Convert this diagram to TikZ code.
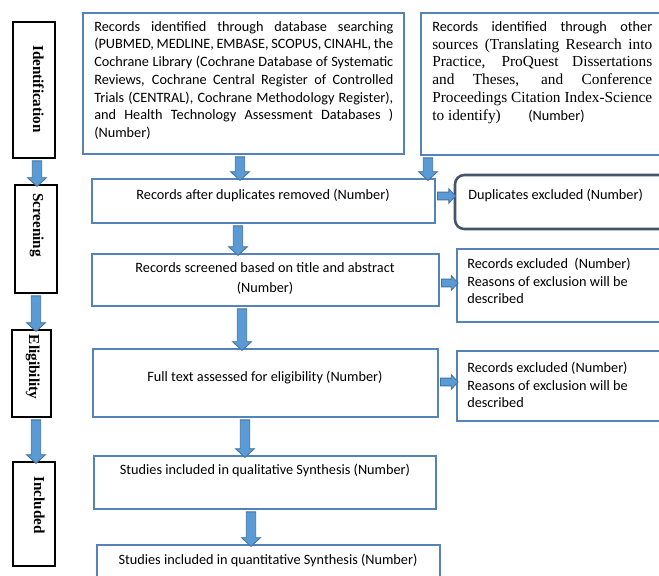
\documentclass[tikz,border=0pt]{standalone}
\usepackage{fontspec}
\setmainfont{Carlito}
\newfontfamily\tnr{Liberation Serif}
\usetikzlibrary{calc,fit,shapes.arrows}
\definecolor{boxblue}{RGB}{84,130,185}
\definecolor{arrowfill}{RGB}{91,155,213}
\definecolor{arrowedge}{RGB}{65,113,156}
\definecolor{dupedge}{RGB}{68,84,106}
\newcommand\blockarrow[3]{%
  \path let \p1=#2, \p2=#3,
    \n1={veclen(\x2-\x1,\y2-\y1)}, \n2={atan2(\y2-\y1,\x2-\x1)} in
    node[#1, minimum height=\n1, rotate=\n2] at ($(\p1)!0.5!(\p2)$) {};}
\tikzset{
  bbox/.style={draw=boxblue, line width=1.1pt, fill=white, inner sep=0pt, rectangle},
  dbox/.style={draw=dupedge, line width=1.9pt, fill=white, inner sep=0pt, rectangle, rounded corners=7pt},
  sbox/.style={draw=black, line width=1.1pt, fill=white, inner sep=0pt, rectangle},
  txt/.style={inner sep=0pt, font=\fontsize{10.7}{13.3}\selectfont},
  stage/.style={inner sep=0pt, rotate=-90, anchor=base, font=\tnr\bfseries\fontsize{11.4}{13}\selectfont},
  vbar/.style={single arrow, draw=arrowedge, fill=arrowfill, line width=0.6pt,
    inner xsep=0pt, inner ysep=3.2pt, single arrow head extend=3.6pt, single arrow tip angle=95},
  hbar/.style={single arrow, draw=arrowedge, fill=arrowfill, line width=0.6pt,
    inner xsep=0pt, inner ysep=2.6pt, single arrow head extend=2.6pt, single arrow tip angle=95},
}
\begin{document}
\begin{tikzpicture}[x=0.75pt, y=-0.75pt]
\useasboundingbox (0,0) rectangle (659,575);
\fill[white] (0,0) rectangle (659,575);

% stage boxes
\node[sbox, fit={(13,22) (55,158)}] (id) {};
\node[sbox, fit={(15,185) (57,293)}] (scr) {};
\node[sbox, fit={(12,330) (51,417)}] (elig) {};
\node[sbox, fit={(13,462) (55,566)}] (incl) {};
\node[stage] (idl) at (33,89) {Identification};
\node[stage] (scrl) at (33,225) {Screening};
\node[stage] (eligl) at (29,367) {Eligibility};
\node[stage] (incll) at (34,505) {Included};

% main boxes
\node[bbox, fit={(83,13) (404,154)}] (b1) {};
\node[bbox, fit={(421,13) (668,155)}] (b2) {};
\node[bbox, fit={(92,179) (435,223)}] (b3) {};
\node[dbox, fit={(455,175) (672,229)}] (dup) {};
\node[bbox, fit={(92,254) (439,306)}] (b4) {};
\node[bbox, fit={(457,249) (668,322)}] (ex1) {};
\node[bbox, fit={(93,349) (438,417)}] (b5) {};
\node[bbox, fit={(457,351) (668,421)}] (ex2) {};
\node[bbox, fit={(94,456) (436,509)}] (b6) {};
\node[bbox, fit={(97,545) (440,590)}] (b7) {};

% texts
\node[txt, anchor=north west, align=left] (b1t) at (94,21) {%
\makebox[224.25pt][s]{Records identified through database searching}\\
\makebox[224.25pt][s]{(PUBMED, MEDLINE, EMBASE, SCOPUS, CINAHL, the}\\
\makebox[224.25pt][s]{Cochrane Library (Cochrane Database of Systematic}\\
\makebox[224.25pt][s]{Reviews, Cochrane Central Register of Controlled}\\
\makebox[224.25pt][s]{Trials (CENTRAL), Cochrane Methodology Register),}\\
\makebox[224.25pt][s]{and Health Technology Assessment Databases )}\\
(Number)};
\node[txt, anchor=north west, align=left, font=\fontsize{10.7}{13.4}\selectfont] (b2t) at (432,21) {%
\makebox[165pt][s]{Records identified through other}\\
{\tnr\fontsize{11.5}{13.4}\selectfont\makebox[165pt][s]{sources (Translating Research into}}\\
{\tnr\fontsize{11.5}{13.4}\selectfont\makebox[165pt][s]{Practice, ProQuest Dissertations}}\\
{\tnr\fontsize{11.5}{13.4}\selectfont\makebox[165pt][s]{and Theses, and Conference}}\\
{\tnr\fontsize{11.5}{13.4}\selectfont\makebox[165pt][s]{Proceedings Citation Index-Science}}\\
\makebox[72pt][l]{\tnr\fontsize{11.5}{13.4}\selectfont to identify)}(Number)};
\node[txt] (b3t) at (263,195) {Records after duplicates removed (Number)};
\node[txt, anchor=west] (dupt) at (468,195) {Duplicates excluded (Number)};
\node[txt, align=center, font=\fontsize{10.7}{15}\selectfont] (b4t) at (265,279) {Records screened based on title and abstract\\(Number)};
\node[txt, anchor=north west, align=left, font=\fontsize{10.7}{13.1}\selectfont] (ex1t) at (467,258) {Records excluded\ \ (Number)\\Reasons of exclusion will be\\described};
\node[txt] (b5t) at (265,377) {Full text assessed for eligibility (Number)};
\node[txt, anchor=north west, align=left, font=\fontsize{10.7}{13.1}\selectfont] (ex2t) at (467,362) {Records excluded (Number)\\Reasons of exclusion will be\\described};
\node[txt] (b6t) at (265,470) {Studies included in qualitative Synthesis (Number)};
\node[txt] (b7t) at (268,560) {Studies included in quantitative Synthesis (Number)};

% arrows
\blockarrow{vbar,name=a1}{(37,0 |- id.south)}{(37,0 |- scr.north)}
\blockarrow{vbar,name=a2}{(36,0 |- scr.south)}{(36,0 |- elig.north)}
\blockarrow{vbar,name=a3}{(36,0 |- elig.south)}{(36,0 |- incl.north)}
\blockarrow{vbar,name=d1}{(240,0 |- b1.south)}{(240,0 |- b3.north)}
\blockarrow{vbar,name=d2}{(428,0 |- b2.south)}{(428,0 |- b3.north)}
\blockarrow{vbar,name=d3}{(238,0 |- b3.south)}{(238,0 |- b4.north)}
\blockarrow{vbar,name=d4}{(242,0 |- b4.south)}{(242,0 |- b5.north)}
\blockarrow{vbar,name=d5}{(245,0 |- b5.south)}{(245,0 |- b6.north)}
\blockarrow{vbar,name=d6}{(251,0 |- b6.south)}{(251,0 |- b7.north)}
\blockarrow{hbar,name=r1}{(b3.east |- 0,196)}{(dup.west |- 0,196)}
\blockarrow{hbar,name=r2}{(b4.east |- 0,283)}{(ex1.west |- 0,283)}
\blockarrow{hbar,name=r3}{(b5.east |- 0,382)}{(ex2.west |- 0,382)}
\end{tikzpicture}
\end{document}
